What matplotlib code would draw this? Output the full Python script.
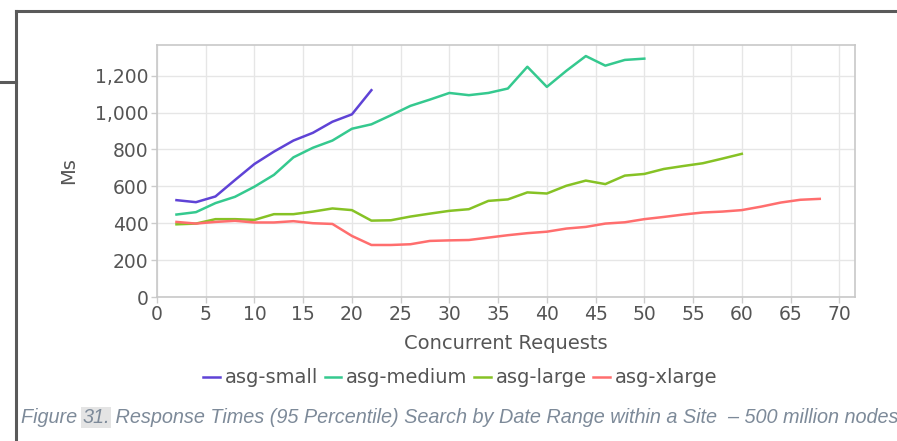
import matplotlib
matplotlib.use("Agg")
import matplotlib.pyplot as plt
from matplotlib.lines import Line2D
from matplotlib.ticker import FuncFormatter

# response times (ms, 95 percentile) per number of concurrent requests
x_small = [2, 4, 6, 8, 10, 12, 14, 16, 18, 20, 22]
small = [525, 514, 545, 634, 721, 788, 848, 890, 950, 990, 1121]

x_medium = list(range(2, 51, 2))
medium = [447, 460, 509, 543, 598, 662, 757, 809, 848, 912, 936, 985, 1036,
          1070, 1106, 1094, 1106, 1130, 1248, 1139, 1226, 1306, 1254, 1285, 1292]

x_large = list(range(2, 61, 2))
large = [394, 398, 422, 422, 418, 449, 449, 463, 480, 471, 414, 416, 436, 452,
         467, 476, 521, 529, 567, 561, 603, 631, 612, 658, 667, 694, 710, 725,
         750, 776]

x_xlarge = list(range(2, 69, 2))
xlarge = [407, 398, 407, 413, 404, 404, 411, 400, 396, 331, 282, 282, 286, 304,
          307, 309, 322, 335, 346, 354, 371, 380, 398, 405, 422, 434, 447, 458,
          463, 471, 490, 512, 527, 532]

names = ["asg-small", "asg-medium", "asg-large", "asg-xlarge"]
colors = ["#5f43d6", "#35c98f", "#86c225", "#ff6e6e"]

fig = plt.figure(figsize=(8.97, 4.41), dpi=100)
ax = fig.add_axes([0.175, 0.3265, 0.778, 0.5715])

for xs, ys, name, c in zip([x_small, x_medium, x_large, x_xlarge],
                           [small, medium, large, xlarge], names, colors):
    ax.plot(xs, ys, color=c, lw=1.8, label=name)

ax.set_xlim(0, 71.6)
ax.set_ylim(0, 1366)
ax.set_xticks(range(0, 71, 5))
ax.set_yticks(range(0, 1201, 200))
ax.yaxis.set_major_formatter(FuncFormatter(lambda v, p: f"{int(v):,}"))
ax.grid(True, color="#e6e6e6", lw=1)
ax.set_axisbelow(True)
for s in ax.spines.values():
    s.set_color("#c8c8c8")
    s.set_linewidth(1.2)
ax.tick_params(colors="#555555", labelsize=13.5, length=4, width=1,
               color="#cccccc", pad=2)
ax.set_xlabel("Concurrent Requests", fontsize=14, color="#555555", labelpad=7)
ax.set_ylabel("Ms", fontsize=14, color="#555555", labelpad=12)

fig.legend(loc="center", bbox_to_anchor=(0.513, 0.143), ncol=4, frameon=False,
           fontsize=14, handlelength=0.85, handletextpad=0.25,
           columnspacing=0.35, labelcolor="#555555")

# caption with highlighted figure number
cap_color = "#7d8a99"
cap_size = 14.3
t1 = fig.text(0.023, 0.041, "Figure ", fontsize=cap_size, style="italic",
              family="Liberation Sans", color=cap_color, va="baseline")
a2 = ax.annotate("31.", xy=(1, 0), xycoords=t1, va="bottom", ha="left",
                 fontsize=cap_size, style="italic", family="Liberation Sans",
                 color=cap_color, annotation_clip=False,
                 bbox=dict(facecolor="#e4e4e4", edgecolor="none", pad=1))
ax.annotate(" Response Times (95 Percentile) Search by Date Range within a Site  \u2013 500 million nodes",
            xy=(1, 0), xycoords=a2, va="bottom", ha="left", fontsize=cap_size,
            style="italic", family="Liberation Sans", color=cap_color,
            annotation_clip=False)

# page frame lines
fx = 16 / 897
fy = 1 - 11 / 441
fig.add_artist(Line2D([fx, 1], [fy, fy], color="#5a5a5a", lw=2.2))
fig.add_artist(Line2D([fx, fx], [0, fy], color="#5a5a5a", lw=2.2))
sy = 1 - 82 / 441
fig.add_artist(Line2D([0, fx], [sy, sy], color="#5a5a5a", lw=2.2))

fig.savefig("out.png", dpi=100)
